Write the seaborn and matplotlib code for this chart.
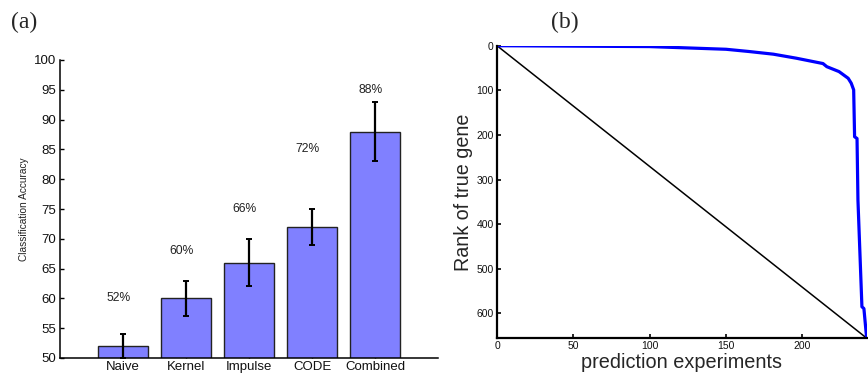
import numpy as np
import pandas as pd
import matplotlib
matplotlib.use("Agg")
import matplotlib.pyplot as plt
import seaborn as sns

# panel (a): classification accuracy per method
methods = ["Naive", "Kernel", "Impulse", "CODE", "Combined"]
accuracy = [52, 60, 66, 72, 88]
acc_err = [2, 3, 4, 3, 5]
pct_labels = ["52%", "60%", "66%", "72%", "88%"]
pct_label_y = [60, 68, 75, 85, 95]

# panel (b): rank of true gene over sorted prediction experiments
exp_idx = [0, 50, 100, 150, 165, 181, 196, 213.5, 216, 224, 230, 232,
           233.6, 234.2, 235.8, 236.4, 239, 240.3, 242]
gene_rank = [0, 1, 2, 8, 13, 19, 28, 40, 47, 58, 73, 84,
             99, 204, 208, 346, 585, 589, 652]
n_experiments = 242
n_genes = 655
diag_x = [0, n_experiments]
diag_y = [0, n_genes]

sns.set_style("white")
plt.rcParams["font.family"] = ["Liberation Sans", "DejaVu Sans"]

fig = plt.figure(figsize=(8.68, 3.75), dpi=100)
W, H = 868.0, 375.0
ax1 = fig.add_axes([60 / W, (H - 358) / H, (438 - 60) / W, (358 - 60) / H])
ax2 = fig.add_axes([497 / W, (H - 338) / H, (866.5 - 497) / W, (338 - 45.7) / H])

# ---- (a) bars
df = pd.DataFrame({"method": methods, "acc": accuracy})
sns.barplot(data=df, x="method", y="acc", color="#8080FF", saturation=1,
            edgecolor="#222222", linewidth=1, width=0.8, errorbar=None, ax=ax1)
ax1.errorbar(x=np.arange(len(methods)), y=accuracy, yerr=acc_err, fmt="none",
             ecolor="black", elinewidth=1.6, capsize=2.2, capthick=1.4, zorder=5)
for i, (lab, ly) in enumerate(zip(pct_labels, pct_label_y)):
    ax1.text(i - 0.07, ly, lab, ha="center", va="center", fontsize=8.7, color="#222222")
ax1.set_xlim(-1, 5)
ax1.set_ylim(50, 100)
ax1.set_yticks(range(50, 101, 5))
ax1.set_xlabel("")
ax1.set_ylabel("Classification Accuracy", fontsize=7.3, labelpad=4, color="#222222")
ax1.tick_params(axis="both", direction="in", length=3, width=1, labelsize=9.5,
                pad=2.5, left=True, bottom=True, colors="black", labelcolor="#111111")
for s in ["top", "right"]:
    ax1.spines[s].set_visible(False)
for s in ["left", "bottom"]:
    ax1.spines[s].set_color("black")
    ax1.spines[s].set_linewidth(1.1)

# ---- (b) rank curve
sns.lineplot(x=diag_x, y=diag_y, color="black", linewidth=1.1, ax=ax2)
sns.lineplot(x=exp_idx, y=gene_rank, color="#0000FF", linewidth=2.3, ax=ax2,
             sort=False, estimator=None)
ax2.set_xlim(0, n_experiments)
ax2.set_ylim(n_genes, 0)
ax2.set_xticks([0, 50, 100, 150, 200])
ax2.set_yticks(range(0, 601, 100))
ax2.set_xlabel("prediction experiments", fontsize=14.3, labelpad=1)
ax2.set_ylabel("Rank of true gene", fontsize=14.2, labelpad=2)
ax2.tick_params(axis="both", direction="in", length=3, width=1.2, labelsize=7.5,
                pad=2.5, left=True, bottom=True, colors="black", labelcolor="#111111")
for s in ["top", "right"]:
    ax2.spines[s].set_visible(False)
for s in ["left", "bottom"]:
    ax2.spines[s].set_color("black")
    ax2.spines[s].set_linewidth(1.6)

fig.text(23.8 / W, 1 - 22 / H, "(a)", family="Liberation Serif", fontsize=17,
         ha="center", va="center")
fig.text(565.3 / W, 1 - 22 / H, "(b)", family="Liberation Serif", fontsize=17,
         ha="center", va="center")

fig.savefig("out.png", dpi=100)
